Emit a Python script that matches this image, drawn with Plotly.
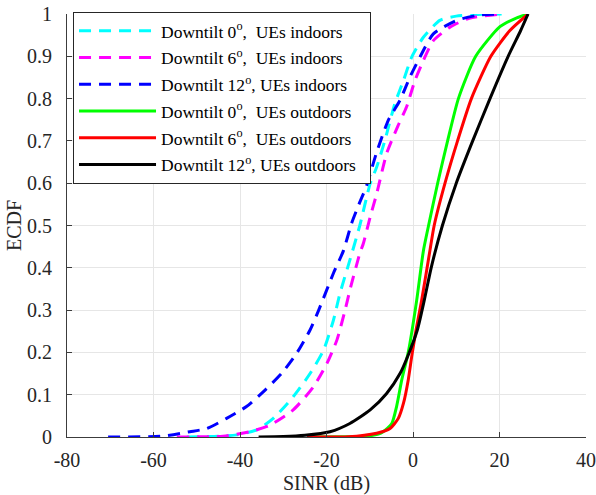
import plotly.graph_objects as go

# ---- data ----
blue_x = [-70.5, -58, -51.6, -47.7, -43.1, -38.5, -34.2, -30.4, -26.9, -23.8, -21.8, -18.4, -16.1, -14.2, -12.5, -10.7, -8.5, -5.7, -3.0, -0.7, 1.6, 4.7, 10.1, 15, 20.5]
blue_y = [0, 0.002, 0.0125, 0.02, 0.044, 0.072, 0.111, 0.15, 0.198, 0.253, 0.30, 0.387, 0.44, 0.505, 0.55, 0.595, 0.67, 0.749, 0.796, 0.851, 0.898, 0.953, 0.985, 0.997, 1.0]

cyan_x = [-52.3, -45, -40.8, -36.1, -32.3, -27.7, -23.8, -20.7, -18.4, -16.9, -14.6, -12.3, -9.9, -8.4, -6.5, -4.2, -2.2, -0.3, 2.4, 6.2, 10, 15, 20.5]
cyan_y = [0, 0.002, 0.005, 0.017, 0.044, 0.095, 0.15, 0.205, 0.276, 0.339, 0.418, 0.50, 0.599, 0.638, 0.701, 0.788, 0.843, 0.898, 0.945, 0.985, 0.995, 0.999, 1.0]

mag_x = [-54.6, -43.9, -37.7, -33.1, -27.7, -23.0, -19.9, -17.6, -15.7, -14.6, -12.3, -11.5, -9.9, -8.4, -6.1, -3.5, -1.5, 0.46, 2.4, 4.7, 8.55, 13, 20.5]
mag_y = [0, 0.002, 0.0125, 0.028, 0.064, 0.119, 0.174, 0.229, 0.30, 0.347, 0.434, 0.457, 0.52, 0.575, 0.67, 0.735, 0.78, 0.843, 0.89, 0.937, 0.969, 0.99, 1.0]

green_x = [-24.5, -15, -11.6, -8, -6.9, -4.9, -3.8, -2.6, -1.1, 0.85, 2.4, 3.6, 5.7, 8.0, 10.5, 14.5, 20.1, 24, 26.6]
green_y = [0, 0.0003, 0.001, 0.007, 0.0125, 0.032, 0.072, 0.135, 0.2, 0.323, 0.44, 0.5, 0.6, 0.7, 0.8, 0.9, 0.97, 0.991, 1.0]

red_x = [-24.5, -15, -8.4, -5.3, -3.4, -2.2, -1.1, -0.3, 0.7, 2.0, 3.9, 4.9, 7.4, 10.3, 13.5, 18, 22.4, 26.6]
red_y = [0, 0.0005, 0.009, 0.02, 0.044, 0.08, 0.135, 0.19, 0.253, 0.323, 0.44, 0.5, 0.6, 0.7, 0.8, 0.9, 0.961, 1.0]

black_x = [-35.7, -30, -25, -19.2, -14.6, -9.9, -6.1, -3.0, -1.1, 1.0, 2.6, 4.2, 6.8, 10, 13.8, 17.8, 22, 24.9, 26.6]
black_y = [0, 0.001, 0.004, 0.0125, 0.032, 0.064, 0.103, 0.15, 0.194, 0.253, 0.323, 0.4, 0.5, 0.6, 0.7, 0.8, 0.9, 0.961, 1.0]

x_ticks = [-80, -60, -40, -20, 0, 20, 40]
x_tick_labels = ["-80", "-60", "-40", "-20", "0", "20", "40"]
y_ticks = [0, 0.1, 0.2, 0.3, 0.4, 0.5, 0.6, 0.7, 0.8, 0.9, 1]
y_tick_labels = ["0", "0.1", "0.2", "0.3", "0.4", "0.5", "0.6", "0.7", "0.8", "0.9", "1"]

PAD = "\u00a0\u00a0"
series = [
    ("Downtilt 0<sup>o</sup>,  UEs indoors", cyan_x, cyan_y, "#00FFFF", "12px,8px"),
    ("Downtilt 6<sup>o</sup>,  UEs indoors", mag_x, mag_y, "#FF00FF", "12px,8px"),
    ("Downtilt 12<sup>o</sup>, UEs indoors", blue_x, blue_y, "#0000FF", "12px,8px"),
    ("Downtilt 0<sup>o</sup>,  UEs outdoors", green_x, green_y, "#00FF00", "solid"),
    ("Downtilt 6<sup>o</sup>,  UEs outdoors", red_x, red_y, "#FF0000", "solid"),
    ("Downtilt 12<sup>o</sup>, UEs outdoors", black_x, black_y, "#000000", "solid"),
]

FONT = "Liberation Serif"

fig = go.Figure()
for i, (name, xs, ys, col, dash) in enumerate(series):
    fig.add_trace(go.Scatter(
        x=xs, y=ys, mode="lines", name=name + PAD, legendgroup=f"g{i}",
        line=dict(color=col, width=3, dash=dash, shape="spline", smoothing=0.6),
    ))

axis_common = dict(
    showgrid=True, gridcolor="#E6E6E6", gridwidth=1,
    showline=True, linecolor="#3C3C3C", linewidth=1,
    ticks="inside", ticklen=5, tickcolor="#3C3C3C",
    zeroline=False, mirror=False, automargin=False,
    ticklabeloverflow="allow",
    tickfont=dict(family=FONT, size=20, color="#262626"),
)

fig.update_layout(
    width=596, height=495,
    margin=dict(l=67, r=10, t=13.5, b=58, autoexpand=False),
    paper_bgcolor="white", plot_bgcolor="white",
    font=dict(family=FONT, color="#262626"),
    xaxis=dict(range=[-80, 40], tickvals=x_ticks, ticktext=x_tick_labels, ticklabelstandoff=5,
               title=dict(text="SINR (dB)", font=dict(family=FONT, size=20), standoff=5),
               **axis_common),
    yaxis=dict(range=[0, 1], tickvals=y_ticks, ticktext=y_tick_labels, ticklabelstandoff=10,
               title=dict(text="ECDF", font=dict(family=FONT, size=20), standoff=0),
               **axis_common),
    legend=dict(
        x=0.0116, y=1.005, xanchor="left", yanchor="top",
        bgcolor="white", bordercolor="#262626", borderwidth=1,
        font=dict(family=FONT, size=17.5, color="black"),
        tracegroupgap=1, itemwidth=77,
    ),
    showlegend=True,
)

# remove the browser's default 8px page margin so the figure fills the window exactly
fig.write_html("out.html", config={"displayModeBar": False},
               post_script="document.body.style.margin='0';")
